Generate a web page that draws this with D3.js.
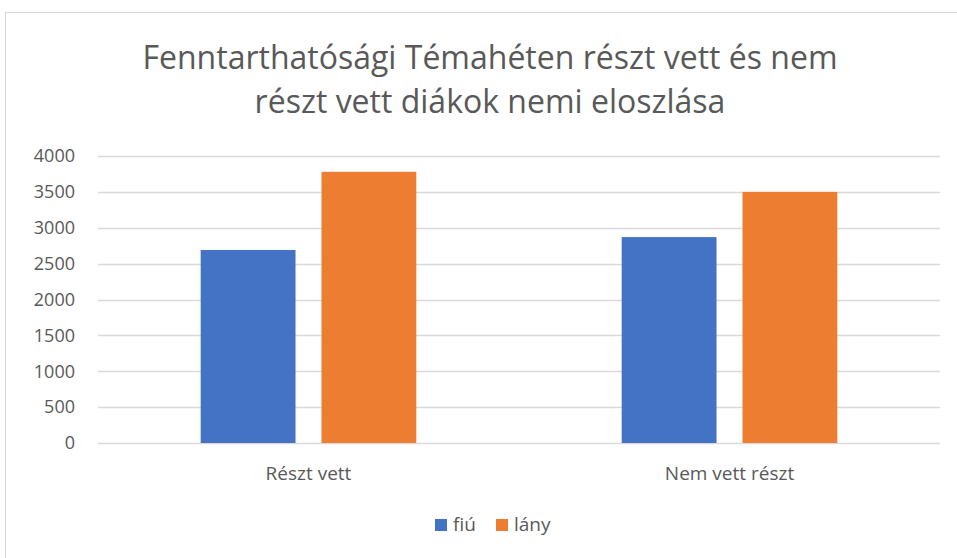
<!DOCTYPE html>
<meta charset="utf-8">
<script src="https://d3js.org/d3.v7.min.js"></script>
<style>
  body { margin: 0; background: #fff; }
  text { font-family: "Open Sans", "Noto Sans", sans-serif; fill: #595959; }
</style>
<div id="chart"></div>
<script>
// data
var categories = ["Részt vett", "Nem vett részt"];
var seriesNames = ["fiú", "lány"];
var fiu = [2690, 2870];
var lany = [3780, 3500];
var yTicks = [0, 500, 1000, 1500, 2000, 2500, 3000, 3500, 4000];
var colors = ["#4472c4", "#ed7d31"];

var W = 957, H = 558;
var margin = {top: 156, right: 17, bottom: 115, left: 98},
    width = W - margin.left - margin.right,
    height = H - margin.top - margin.bottom;

var rows = categories.map(function(c, i) {
  return {cat: c, values: [fiu[i], lany[i]]};
});

var svg = d3.select("#chart").append("svg")
    .attr("width", W).attr("height", H);

// chart frame
svg.append("rect")
    .attr("x", 5.5).attr("y", 12.5)
    .attr("width", W).attr("height", H)
    .attr("fill", "none").attr("stroke", "#d9d9d9");

// title
var title = svg.append("text")
    .attr("text-anchor", "middle")
    .attr("font-size", 32);
title.append("tspan").attr("x", 490).attr("y", 69)
    .text("Fenntarthatósági Témahéten részt vett és nem");
title.append("tspan").attr("x", 490).attr("y", 113)
    .text("részt vett diákok nemi eloszlása");

var g = svg.append("g")
    .attr("transform", "translate(" + margin.left + "," + margin.top + ")");

var x0 = d3.scaleBand().domain(categories).range([0, width]);
var x1 = d3.scaleBand().domain(seriesNames).range([0, x0.bandwidth()])
    .paddingInner(0.215).paddingOuter(0.85);
var y = d3.scaleLinear().domain([0, 4000]).range([height, 0]);

// gridlines
g.append("g")
  .selectAll("line").data(yTicks).enter().append("line")
    .attr("x1", 0).attr("x2", width)
    .attr("y1", function(d) { return Math.round(y(d)) + 0.5; })
    .attr("y2", function(d) { return Math.round(y(d)) + 0.5; })
    .attr("stroke", "#d9d9d9").attr("stroke-width", 1.5);

// y axis labels
var yAxis = g.append("g")
    .call(d3.axisLeft(y).tickValues(yTicks).tickFormat(d3.format("d"))
      .tickSize(0).tickPadding(23));
yAxis.select(".domain").remove();
yAxis.attr("font-size", 18).attr("font-family", null);
yAxis.selectAll("text").style("fill", "#595959");

// bars
g.append("g")
  .selectAll("g").data(rows).enter().append("g")
    .attr("transform", function(d) { return "translate(" + x0(d.cat) + ",0)"; })
  .selectAll("rect")
  .data(function(d) { return d.values.map(function(v, i) { return {key: seriesNames[i], value: v, i: i}; }); })
  .enter().append("rect")
    .attr("x", function(d) { return x1(d.key); })
    .attr("width", x1.bandwidth())
    .attr("y", function(d) { return y(d.value); })
    .attr("height", function(d) { return height - y(d.value); })
    .attr("fill", function(d) { return colors[d.i]; });

// x axis labels
var xAxis = g.append("g")
    .attr("transform", "translate(0," + height + ")")
    .call(d3.axisBottom(x0).tickSize(0).tickPadding(24));
xAxis.select(".domain").remove();
xAxis.attr("font-size", 19).attr("font-family", null);
xAxis.selectAll("text").style("fill", "#595959");

// legend
var legendX = [435, 496];
var legend = svg.append("g").selectAll("g").data(seriesNames).enter().append("g")
    .attr("transform", function(d, i) { return "translate(" + legendX[i] + ",519)"; });
legend.append("rect").attr("width", 12).attr("height", 12)
    .attr("fill", function(d, i) { return colors[i]; });
legend.append("text").attr("x", 18).attr("y", 12)
    .attr("font-size", 19).text(function(d) { return d; });
</script>
